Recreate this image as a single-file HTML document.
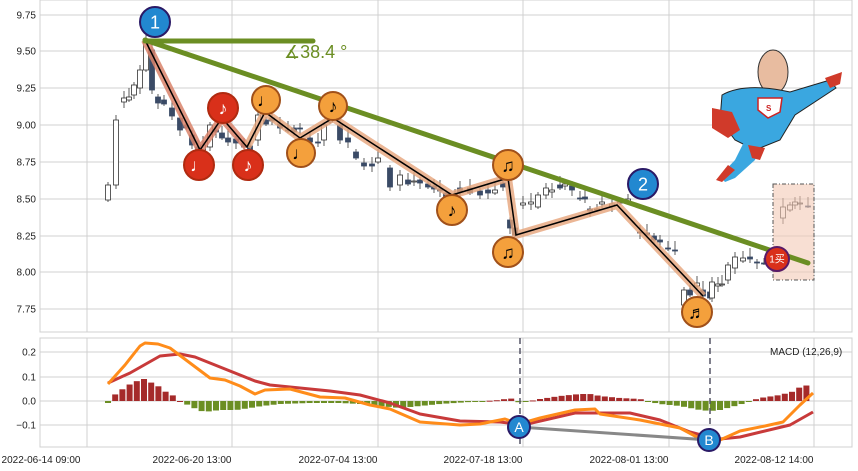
<!DOCTYPE html>
<html><head><meta charset="utf-8"><style>
html,body{margin:0;padding:0;background:#fff;width:858px;height:471px;overflow:hidden}
svg text{font-family:"Liberation Sans","Noto Sans CJK SC",sans-serif}
</style></head><body>
<svg id="s" width="858" height="471" xmlns="http://www.w3.org/2000/svg">
<rect width="858" height="471" fill="#fff"/>
<g id="grid" stroke="#d0d0d0" stroke-width="1"></g>
<g id="cand"></g>
<g id="hist"></g>
<!-- superhero -->
<g>
<ellipse cx="773" cy="72" rx="15" ry="22" fill="#e8bca0" stroke="#333" stroke-width="1"/>
<path d="M722 95 Q745 82 790 92 L830 80 L836 88 L795 115 L780 140 L755 150 L735 140 L720 120 Z" fill="#3aa7e0" stroke="#222" stroke-width="1"/>
<path d="M758 98 L782 98 L780 112 L768 118 L758 110 Z" fill="#fff" stroke="#c22" stroke-width="1.5"/>
<text x="766" y="111" font-size="8" fill="#c22" font-weight="bold">S</text>
<path d="M712 108 L732 112 L740 130 L728 138 L712 128 Z" fill="#d03a2a"/>
<path d="M745 140 L760 145 L755 160 L735 178 L725 182 L720 176 L735 160 Z" fill="#3aa7e0"/>
<path d="M728 165 L735 170 L722 182 L716 180 Z" fill="#d03a2a"/>
<path d="M748 145 L765 148 L760 160 L752 158 Z" fill="#d03a2a"/>
<path d="M825 78 L842 72 L840 84 L830 88 Z" fill="#d03a2a"/>
</g>
<g id="ov"></g>
<g id="txt" font-size="10" fill="#222"></g>
</svg>
<script>
const NS="http://www.w3.org/2000/svg";
function el(p,t,a,txt){const e=document.createElementNS(NS,t);for(const k in a)e.setAttribute(k,a[k]);if(txt!=null)e.textContent=txt;document.getElementById(p).appendChild(e);return e;}
const vx=[87,232,378,523,669,814];
const py=[15,51,88,125,162,199,236,272,309];
const my=[352,377,401,425];
vx.forEach(x=>{el('grid','line',{x1:x,y1:0,x2:x,y2:332});el('grid','line',{x1:x,y1:338,x2:x,y2:447});});
py.forEach(y=>el('grid','line',{x1:40,y1:y,x2:852,y2:y}));
my.forEach(y=>el('grid','line',{x1:40,y1:y,x2:852,y2:y}));
el('grid','rect',{x:40,y:0,width:812,height:332,fill:"none"});
el('grid','rect',{x:40,y:338,width:812,height:109,fill:"none"});
["9.75","9.50","9.25","9.00","8.75","8.50","8.25","8.00","7.75"].forEach((t,i)=>el('txt','text',{x:36,y:py[i]+3.5,"text-anchor":"end"},t));
["0.2","0.1","0.0","\u22120.1"].forEach((t,i)=>el('txt','text',{x:36,y:my[i]+3.5,"text-anchor":"end"},t));
["2022-06-14 09:00","2022-06-20 13:00","2022-07-04 13:00","2022-07-18 13:00","2022-08-01 13:00","2022-08-12 14:00"].forEach((t,i)=>el('txt','text',{x:vx[i]-40+(i==0?-6:0),y:463,"text-anchor":"middle"},t));
el('txt','text',{x:770,y:355},"MACD (12,26,9)");
const C=[[108,200,185],[116,185,120],[124,102,98],[129,100,97],[134,95,85],[140,88,70],[146,70,40],[152,50,90],[158,97,103],[164,100,104],[172,108,116],[180,118,130],[186,125,128],[192,135,145],[198,147,152],[203,150,145],[210,147,125],[216,130,132],[222,133,138],[228,138,142],[236,139,143],[244,143,147],[250,146,150],[258,140,115],[266,120,124],[272,118,121],[280,124,128],[288,130,131],[294,128,132],[300,128,129],[310,138,142],[318,142,143],[324,140,125],[330,122,120],[340,125,140],[348,138,142],[356,152,158],[364,163,166],[372,164,166],[378,162,158],[390,168,187],[400,185,175],[408,180,184],[414,182,181],[420,180,183],[428,184,187],[434,186,189],[440,189,191],[446,193,197],[455,195,194],[460,188,192],[470,188,193],[480,191,195],[488,190,193],[495,193,190],[503,183,187],[510,220,228],[515,228,235],[523,205,203],[531,204,202],[538,207,195],[546,195,188],[552,192,190],[560,185,188],[565,186,184],[572,186,190],[580,198,199],[585,197,199],[590,209,211],[597,210,209],[602,204,202],[612,206,204],[620,203,202],[628,201,199],[640,232,233],[647,233,235],[654,236,240],[660,240,242],[668,248,249],[675,250,251],[684,305,290],[690,290,295],[697,286,283],[703,290,296],[710,292,298],[712,298,282],[718,286,284],[722,285,284],[728,280,265],[735,268,257],[743,261,258],[750,257,259],[757,262,263],[764,263,263],[772,259,257],[783,218,207],[790,210,205],[795,205,202],[800,204,203],[808,206,206]];
C.forEach(([x,o,c],i)=>{const t=Math.min(o,c),b=Math.max(o,c);const up=c<o;
el('cand','line',{x1:x,y1:t-3-(i%4)*2,x2:x,y2:b+2+(i%3)*2,stroke:"#333","stroke-width":0.8});
el('cand','rect',{x:x-2.5,y:t,width:5,height:Math.max(b-t,1),fill:up?"#fff":"#3a4a66",stroke:up?"#333":"#3a4a66","stroke-width":0.8});});
const O=[[108,384],[125,365],[140,346],[145,343],[158,344],[170,348],[190,363],[210,378],[225,380],[240,386],[255,394],[265,390],[290,389],[320,397],[345,398],[370,405],[390,409],[420,422],[460,425],[480,424],[505,419],[519,424],[540,418],[575,410],[595,409],[600,414],[640,420],[680,428],[710,444],[720,440],[740,431],[765,426],[783,422],[800,405],[813,393]];
const R=[[108,383],[130,373],[160,356],[180,354],[195,357],[220,367],[255,381],[270,385],[300,388],[330,391],[360,395],[390,403],[420,414],[460,421],[500,422],[523,425],[575,413],[630,413],[660,420],[690,432],[705,436],[720,439],[740,437],[790,425],[813,412]];
const H=[[108,-2],[113,5],[120,10],[127,15],[134,19],[144,22],[150,19],[158,15],[166,9],[174,5],[180,0],[188,-4],[196,-8],[204,-11],[212,-10],[220,-9],[236,-9],[250,-7],[262,-5],[280,-3],[310,-2],[340,-2],[360,-3],[380,-5],[400,-7],[420,-5],[440,-3],[470,-1],[500,1],[510,3],[520,-2],[540,2],[560,5],[580,7],[590,7],[600,5],[620,3],[640,2],[650,-1],[660,-3],[680,-5],[700,-9],[710,-10],[720,-9],[735,-5],[745,-2],[750,0],[760,3],[780,6],[795,10],[800,14],[813,17]];
function interp(L,x){for(let i=0;i<L.length-1;i++){if(x>=L[i][0]&&x<=L[i+1][0]){const f=(x-L[i][0])/(L[i+1][0]-L[i][0]);return L[i][1]+f*(L[i+1][1]-L[i][1]);}}return L[L.length-1][1];}
for(let x=108;x<=813;x+=7.2){const d=interp(H,x);const pos=d>0;
el('hist','rect',{x:x-3,y:pos?401-d:401,width:6,height:Math.max(Math.abs(d),1),fill:pos?"#a52a2a":"#6b8e23"});}
el('hist','polyline',{points:R.map(p=>p.join(',')).join(' '),fill:"none",stroke:"#c83a3a","stroke-width":3,"stroke-linejoin":"round"});
el('hist','polyline',{points:O.map(p=>p.join(',')).join(' '),fill:"none",stroke:"#ff8c1a","stroke-width":3,"stroke-linejoin":"round"});
el('ov','rect',{x:773,y:184,width:41,height:96,fill:"#f4c9b5","fill-opacity":0.6,stroke:"#555","stroke-dasharray":"4,2,1,2"});
el('ov','polyline',{points:"145,40 200,150 222,118 247,147",fill:"none",stroke:"#d9826a","stroke-width":8,"stroke-opacity":0.85});
el('ov','polyline',{points:"247,147 265,112 300,138 333,118 452,195 508,178 516,235 617,205 703,296",fill:"none",stroke:"#e6a47a","stroke-width":8,"stroke-opacity":0.8});
el('ov','polyline',{points:"145,40 200,150 222,118 247,147 265,112 300,138 333,118 452,195 508,178 516,235 617,205 703,296",fill:"none",stroke:"#000","stroke-width":1.5});
el('ov','line',{x1:145,y1:41,x2:313,y2:41,stroke:"#6b8e23","stroke-width":5,"stroke-linecap":"round"});
el('ov','line',{x1:145,y1:40,x2:808,y2:263,stroke:"#6b8e23","stroke-width":5,"stroke-linecap":"round"});
el('ov','text',{x:284,y:58,"font-size":18,fill:"#6b8e23"},"\u222138.4 \u00b0");
function mk(x,y,r,fill,stroke,t,tc,fs){el('ov','circle',{cx:x,cy:y,r:r,fill:fill,stroke:stroke,"stroke-width":2});el('ov','text',{x:x,y:y+fs*0.36,"text-anchor":"middle","font-size":fs,fill:tc},t);}
const RD="#d9301a",OR="#f4a03c";
mk(155,22,15,"#2288d0","#2a1a66","1","#fff",18);
mk(199,165,15,RD,"#b02a10","\u2669","#fff",18);
mk(223,108,15,RD,"#b02a10","\u266a","#fff",18);
mk(248,165,15,RD,"#b02a10","\u266a","#fff",18);
mk(266,100,14,OR,"#a0501a","\u2669","#000",18);
mk(301,153,14,OR,"#a0501a","\u2669","#000",18);
mk(333,106,14,OR,"#a0501a","\u266a","#000",18);
mk(452,210,15,OR,"#a0501a","\u266a","#000",18);
mk(508,165,15,OR,"#a0501a","\u266b","#000",18);
mk(508,252,15,OR,"#a0501a","\u266b","#000",18);
mk(643,184,15,"#2288d0","#2a1a66","2","#fff",18);
mk(697,312,15,OR,"#a0501a","\u266c","#000",18);
mk(777,259,12,RD,"#5a1a66","1\u4e70","#fff",10);
el('ov','line',{x1:520,y1:338,x2:520,y2:447,stroke:"#556","stroke-width":1.5,"stroke-dasharray":"6,4"});
el('ov','line',{x1:710,y1:338,x2:710,y2:447,stroke:"#556","stroke-width":1.5,"stroke-dasharray":"6,4"});
el('ov','line',{x1:519,y1:427,x2:709,y2:440,stroke:"#888","stroke-width":3});
mk(519,427,11,"#2288d0","#2a1a66","A","#fff",14);
mk(709,440,11,"#2288d0","#2a1a66","B","#fff",14);
</script>
</body></html>
